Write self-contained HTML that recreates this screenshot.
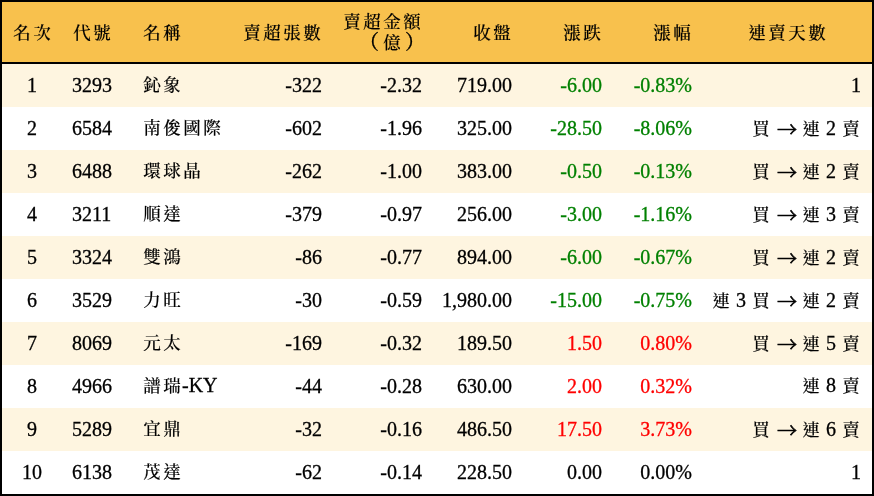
<!DOCTYPE html>
<html lang="zh-Hant">
<head>
<meta charset="utf-8">
<title>賣超排行</title>
<style>
html,body{margin:0;padding:0;background:#fff;}
body{width:874px;height:496px;overflow:hidden;font-family:"Liberation Serif","Noto Serif CJK SC",serif;font-size:20px;color:#000;}
table{will-change:transform;border-collapse:separate;border-spacing:0;table-layout:fixed;width:874px;height:496px;border:2px solid #000;box-sizing:border-box;}
th,td{-webkit-text-stroke:0.3px;padding:0;margin:0;font-weight:normal;white-space:nowrap;overflow:visible;vertical-align:middle;line-height:20px;}
thead th{background:#F8C14D;height:60px;border-bottom:2px solid #000;box-sizing:content-box;}
tbody td{height:41px;padding-bottom:2px;}
tbody tr:nth-child(odd) td{background:#FEF5E0;}
tbody tr:nth-child(even) td{background:#fff;}
.c1{text-align:center;}
.c2{text-align:left;padding-left:10px;}
.c3{text-align:left;padding-left:8px;}
.c4,.c6,.c7,.c8{text-align:right;padding-right:10px;}
.c5{text-align:right;padding-right:9px;}
.c9{text-align:right;padding-right:11px;}
th.c9{text-align:center;padding-right:0;}
.k{font-size:17.5px;letter-spacing:2.5px;margin-left:1.25px;margin-right:-1.25px;font-weight:500;-webkit-text-stroke:0.15px;}
.ar{font-family:"Noto Serif CJK SC",serif;font-weight:700;-webkit-text-stroke:0.6px #000;position:relative;top:2px;left:1px;}
.pl,.pr{position:relative;font-weight:500;}
.pl{left:-3px;}
.pr{left:3px;}
.g{color:#008000;}
.r{color:#FF0000;}
</style>
</head>
<body>
<table>
<colgroup><col style="width:60px"><col style="width:72px"><col style="width:101px"><col style="width:97px"><col style="width:99px"><col style="width:91px"><col style="width:90px"><col style="width:90px"><col style="width:170px"></colgroup>
<thead>
<tr><th class="c1"><span class="k">名次</span></th><th class="c2"><span class="k">代號</span></th><th class="c3"><span class="k">名稱</span></th><th class="c4"><span class="k">賣超張數</span></th><th class="c5"><span class="k">賣超金額</span><br><span class="pl">（</span><span class="k">億</span><span class="pr">）</span></th><th class="c6"><span class="k">收盤</span></th><th class="c7"><span class="k">漲跌</span></th><th class="c8"><span class="k">漲幅</span></th><th class="c9"><span class="k">連賣天數</span></th></tr>
</thead>
<tbody>
<tr><td class="c1">1</td><td class="c2">3293</td><td class="c3"><span class="k">鈊象</span></td><td class="c4">-322</td><td class="c5">-2.32</td><td class="c6">719.00</td><td class="c7 g">-6.00</td><td class="c8 g">-0.83%</td><td class="c9">1</td></tr>
<tr><td class="c1">2</td><td class="c2">6584</td><td class="c3"><span class="k">南俊國際</span></td><td class="c4">-602</td><td class="c5">-1.96</td><td class="c6">325.00</td><td class="c7 g">-28.50</td><td class="c8 g">-8.06%</td><td class="c9"><span class="k">買</span> <span class="ar">→</span> <span class="k">連</span> 2 <span class="k">賣</span></td></tr>
<tr><td class="c1">3</td><td class="c2">6488</td><td class="c3"><span class="k">環球晶</span></td><td class="c4">-262</td><td class="c5">-1.00</td><td class="c6">383.00</td><td class="c7 g">-0.50</td><td class="c8 g">-0.13%</td><td class="c9"><span class="k">買</span> <span class="ar">→</span> <span class="k">連</span> 2 <span class="k">賣</span></td></tr>
<tr><td class="c1">4</td><td class="c2">3211</td><td class="c3"><span class="k">順達</span></td><td class="c4">-379</td><td class="c5">-0.97</td><td class="c6">256.00</td><td class="c7 g">-3.00</td><td class="c8 g">-1.16%</td><td class="c9"><span class="k">買</span> <span class="ar">→</span> <span class="k">連</span> 3 <span class="k">賣</span></td></tr>
<tr><td class="c1">5</td><td class="c2">3324</td><td class="c3"><span class="k">雙鴻</span></td><td class="c4">-86</td><td class="c5">-0.77</td><td class="c6">894.00</td><td class="c7 g">-6.00</td><td class="c8 g">-0.67%</td><td class="c9"><span class="k">買</span> <span class="ar">→</span> <span class="k">連</span> 2 <span class="k">賣</span></td></tr>
<tr><td class="c1">6</td><td class="c2">3529</td><td class="c3"><span class="k">力旺</span></td><td class="c4">-30</td><td class="c5">-0.59</td><td class="c6">1,980.00</td><td class="c7 g">-15.00</td><td class="c8 g">-0.75%</td><td class="c9"><span class="k">連</span> 3 <span class="k">買</span> <span class="ar">→</span> <span class="k">連</span> 2 <span class="k">賣</span></td></tr>
<tr><td class="c1">7</td><td class="c2">8069</td><td class="c3"><span class="k">元太</span></td><td class="c4">-169</td><td class="c5">-0.32</td><td class="c6">189.50</td><td class="c7 r">1.50</td><td class="c8 r">0.80%</td><td class="c9"><span class="k">買</span> <span class="ar">→</span> <span class="k">連</span> 5 <span class="k">賣</span></td></tr>
<tr><td class="c1">8</td><td class="c2">4966</td><td class="c3"><span class="k">譜瑞</span>-KY</td><td class="c4">-44</td><td class="c5">-0.28</td><td class="c6">630.00</td><td class="c7 r">2.00</td><td class="c8 r">0.32%</td><td class="c9"><span class="k">連</span> 8 <span class="k">賣</span></td></tr>
<tr><td class="c1">9</td><td class="c2">5289</td><td class="c3"><span class="k">宜鼎</span></td><td class="c4">-32</td><td class="c5">-0.16</td><td class="c6">486.50</td><td class="c7 r">17.50</td><td class="c8 r">3.73%</td><td class="c9"><span class="k">買</span> <span class="ar">→</span> <span class="k">連</span> 6 <span class="k">賣</span></td></tr>
<tr><td class="c1">10</td><td class="c2">6138</td><td class="c3"><span class="k">茂達</span></td><td class="c4">-62</td><td class="c5">-0.14</td><td class="c6">228.50</td><td class="c7">0.00</td><td class="c8">0.00%</td><td class="c9">1</td></tr>
</tbody>
</table>
</body>
</html>
